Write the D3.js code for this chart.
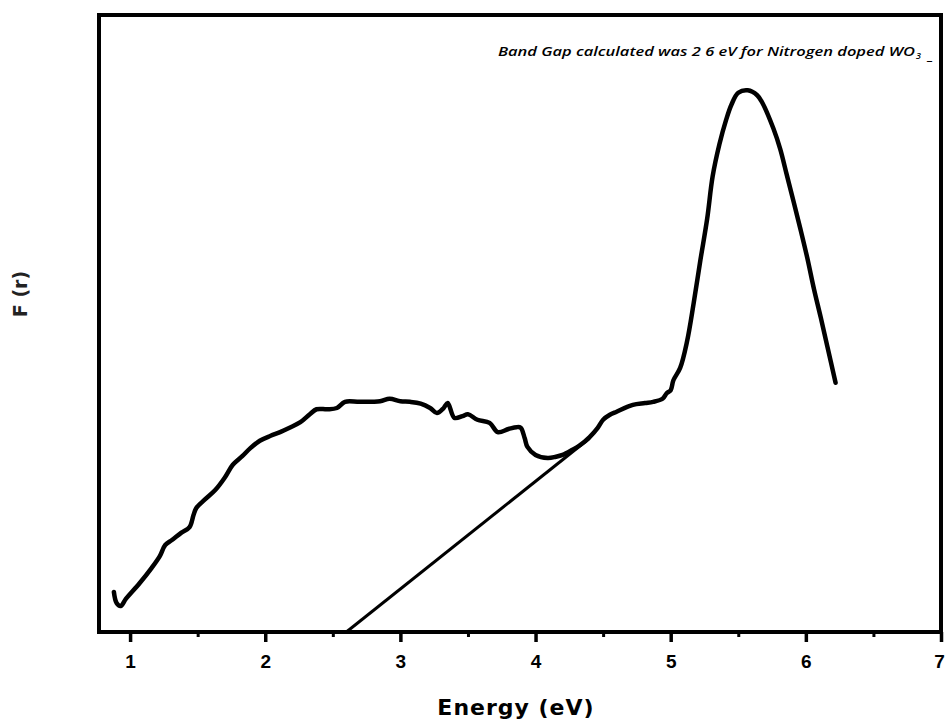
<!DOCTYPE html>
<html>
<head>
<meta charset="utf-8">
<script src="https://cdn.jsdelivr.net/npm/d3@7.9.0/dist/d3.min.js"></script>
<style>
  html, body { margin: 0; padding: 0; background: #fff; }
  svg { display: block; }
</style>
</head>
<body>
<svg id="chart" width="945" height="726"></svg>
<script>
// ---- data ----
const energy = [0.88, 0.90, 0.93, 0.97, 1.07, 1.16, 1.22, 1.26, 1.31, 1.38, 1.44, 1.47, 1.49,
  1.55, 1.63, 1.70, 1.76, 1.83, 1.89, 1.96, 2.04, 2.11, 2.18, 2.26, 2.33, 2.38, 2.46, 2.53,
  2.59, 2.70, 2.85, 2.92, 3.00, 3.07, 3.15, 3.22, 3.27, 3.32, 3.35, 3.40, 3.46, 3.50, 3.57,
  3.66, 3.72, 3.80, 3.86, 3.89, 3.92, 3.94, 4.00, 4.09, 4.15, 4.20, 4.27, 4.33, 4.40, 4.46,
  4.50, 4.55, 4.60, 4.72, 4.81, 4.87, 4.94, 4.97, 5.00, 5.02, 5.07, 5.12, 5.17, 5.22, 5.27,
  5.31, 5.36, 5.41, 5.45, 5.50, 5.57, 5.64, 5.68, 5.76, 5.81, 5.86, 5.91, 5.96, 6.01, 6.06,
  6.11, 6.16, 6.22];
const fr = [6.5, 4.7, 4.2, 5.4, 7.9, 10.4, 12.3, 14.1, 14.9, 16.1, 17.0, 19.0, 20.1,
  21.4, 23.0, 25.0, 27.1, 28.5, 29.8, 31.0, 31.8, 32.4, 33.1, 34.0, 35.3, 36.1, 36.1, 36.3,
  37.3, 37.3, 37.4, 37.8, 37.4, 37.3, 37.0, 36.3, 35.5, 36.3, 37.1, 34.7, 35.0, 35.3, 34.4,
  33.9, 32.4, 32.9, 33.2, 33.1, 31.4, 30.0, 28.7, 28.2, 28.4, 28.7, 29.5, 30.3, 31.6, 33.1,
  34.4, 35.2, 35.7, 36.8, 37.1, 37.3, 37.8, 38.7, 39.2, 40.8, 42.8, 47.0, 53.3, 60.3, 67.0,
  73.8, 79.0, 83.0, 85.5, 87.4, 87.8, 87.0, 85.7, 81.6, 78.3, 74.0, 69.7, 65.3, 60.7, 55.6,
  51.0, 46.2, 40.4];

// Tauc-style extrapolation line, meets the axis at 2.6 eV
const tangentX = [2.6, 4.40];
const tangentY = [0, 31.4];

const majorTicks = [1, 2, 3, 4, 5, 6, 7];
const minorTicks = [1.5, 2.5, 3.5, 4.5, 5.5, 6.5];

const xTitle = 'Energy (eV)';
const yTitle = 'F (r)';
const note = 'Band Gap calculated was 2 6 eV for Nitrogen doped WO';

// ---- layout ----
const plotLeft = 99, plotRight = 941, plotTop = 15, plotBottom = 632;

const svg = d3.select('#chart');

const x = d3.scaleLinear().domain([0.77, 7]).range([plotLeft, plotRight]);
const y = d3.scaleLinear().domain([0, 100]).range([plotBottom, plotTop]);

// major ticks with labels
const xAxis = svg.append('g')
  .attr('transform', `translate(0,${plotBottom})`)
  .call(d3.axisBottom(x).tickValues(majorTicks).tickSize(10).tickPadding(13).tickFormat(d3.format('d')));
xAxis.select('.domain').remove();
xAxis.selectAll('line').attr('stroke', '#000').attr('stroke-width', 3.5);
xAxis.selectAll('text')
  .attr('fill', '#000')
  .attr('dx', d => d === 7 ? -2 : 0)
  .style('font-family', '"Liberation Sans", Arial, sans-serif')
  .style('font-weight', 'bold')
  .style('font-size', '19px');

// minor ticks
const xMinor = svg.append('g')
  .attr('transform', `translate(0,${plotBottom})`)
  .call(d3.axisBottom(x).tickValues(minorTicks).tickSize(5).tickFormat(''));
xMinor.select('.domain').remove();
xMinor.selectAll('line').attr('stroke', '#000').attr('stroke-width', 3);

// frame
svg.append('rect')
  .attr('x', plotLeft).attr('y', plotTop)
  .attr('width', plotRight - plotLeft).attr('height', plotBottom - plotTop)
  .attr('fill', 'none')
  .attr('stroke', '#000')
  .attr('stroke-width', 4);

const line = d3.line()
  .x(d => x(d[0]))
  .y(d => y(d[1]))
  .curve(d3.curveCatmullRom.alpha(0.5));

svg.append('path')
  .datum(d3.zip(energy, fr))
  .attr('d', line)
  .attr('fill', 'none')
  .attr('stroke', '#000')
  .attr('stroke-width', 4.5)
  .attr('stroke-linejoin', 'round')
  .attr('stroke-linecap', 'round');

svg.append('path')
  .datum(d3.zip(tangentX, tangentY))
  .attr('d', d3.line().x(d => x(d[0])).y(d => y(d[1])))
  .attr('fill', 'none')
  .attr('stroke', '#000')
  .attr('stroke-width', 3);

// axis titles
svg.append('text')
  .attr('x', 516).attr('y', 715)
  .attr('text-anchor', 'middle')
  .style('font-family', '"DejaVu Sans", Verdana, sans-serif')
  .style('font-weight', 'bold')
  .style('font-size', '22px')
  .style('letter-spacing', '1px')
  .text(xTitle);

svg.append('text')
  .attr('transform', 'translate(27,294) rotate(-90)')
  .attr('text-anchor', 'middle')
  .attr('fill', '#222')
  .style('font-family', '"DejaVu Sans", Verdana, sans-serif')
  .style('font-weight', 'bold')
  .style('font-size', '19px')
  .text(yTitle);

// annotation
const ann = svg.append('g')
  .style('font-family', '"Open Sans", "DejaVu Sans", sans-serif')
  .style('font-style', 'italic')
  .style('font-weight', '600');
ann.append('text')
  .attr('x', 498).attr('y', 56)
  .attr('textLength', 417)
  .attr('lengthAdjust', 'spacingAndGlyphs')
  .style('font-size', '13px')
  .text(note);
ann.append('text')
  .attr('x', 916).attr('y', 59)
  .style('font-size', '9px')
  .text('3');
ann.append('text')
  .attr('x', 928).attr('y', 60)
  .style('font-size', '13px')
  .text('_');
</script>
</body>
</html>
